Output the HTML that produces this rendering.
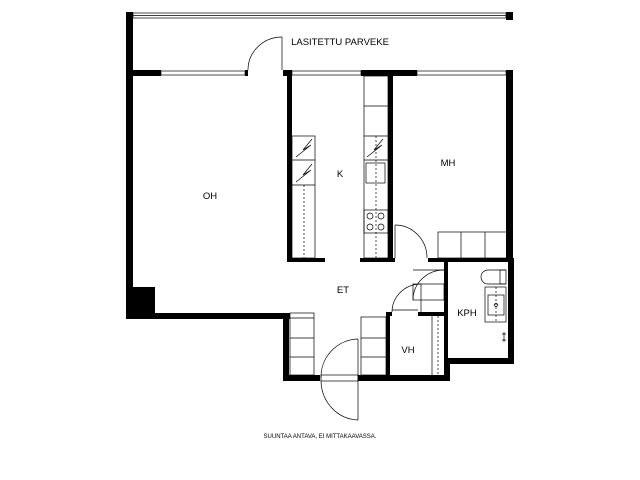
<!DOCTYPE html>
<html><head><style>body{margin:0;background:#fff}svg{display:block}</style></head><body>
<svg width="640" height="480" viewBox="0 0 640 480" xmlns="http://www.w3.org/2000/svg" font-family="Liberation Sans, sans-serif">
<rect width="640" height="480" fill="#fff"/>
<g fill="#000">
<!-- outer left -->
<rect x="126" y="12" width="7" height="307"/>
<rect x="126" y="287" width="29" height="32"/>
<rect x="126" y="313" width="164" height="6"/>
<rect x="283" y="313" width="6" height="68"/>
<rect x="283" y="375" width="37" height="6"/>
<rect x="358" y="375" width="92" height="6"/>
<!-- right outer -->
<rect x="506" y="12" width="7" height="8"/>
<rect x="506" y="70" width="7" height="192"/>
<!-- balcony wall line -->
<rect x="133" y="70" width="28" height="6"/>
<rect x="245" y="70" width="3" height="6"/>
<rect x="283" y="70" width="9" height="6"/>
<rect x="361" y="70" width="56" height="6"/>
<!-- kitchen -->
<rect x="287" y="76" width="5" height="186"/>
<rect x="388" y="76" width="5" height="186"/>
<rect x="287" y="258" width="38" height="4"/>
<rect x="360" y="258" width="35" height="4"/>
<rect x="428" y="258" width="86" height="4"/>
<!-- KPH -->
<rect x="444" y="262" width="4" height="102"/>
<rect x="508" y="262" width="6" height="102"/>
<rect x="447" y="358" width="67" height="6"/>
<rect x="444" y="358" width="6" height="23"/>
<!-- VH -->
<rect x="386" y="312" width="4" height="69"/>
<rect x="386" y="312" width="6" height="4"/>
<rect x="418" y="312" width="29" height="4"/>
</g>
<g fill="none" stroke="#000" stroke-width="0.7">
<!-- balcony glazing -->
<rect x="133" y="13" width="373" height="5"/>
<line x1="133" y1="15.5" x2="506" y2="15.5"/>
<rect x="161" y="71" width="84" height="4"/>
<rect x="292" y="71" width="69" height="4"/>
<rect x="417" y="71" width="89" height="4"/>
<!-- balcony door -->
<line x1="282" y1="37" x2="282" y2="70"/>
<path d="M248,70 A34,33 0 0 1 282,37"/>
<!-- kitchen left cabinets -->
<rect x="292" y="136" width="23" height="122"/>
<line x1="292" y1="160" x2="315" y2="160"/>
<line x1="292" y1="185" x2="315" y2="185"/>
<path d="M296,157 L311,145 L303,150 L312,139"/>
<path d="M296,182 L311,170 L303,175 L312,164"/>
<line x1="304" y1="185" x2="304" y2="258" stroke-dasharray="2,2"/>
<!-- kitchen right counter -->
<rect x="364" y="76" width="24" height="182"/>
<line x1="364" y1="106" x2="388" y2="106"/>
<line x1="364" y1="136" x2="388" y2="136"/>
<line x1="364" y1="160" x2="388" y2="160"/>
<path d="M367,157 L382,145 L374,150 L383,139"/>
<rect x="366" y="163" width="19" height="20"/>
<rect x="364" y="210" width="24" height="23"/>
<circle cx="370" cy="216" r="3"/><circle cx="381" cy="216" r="3"/>
<circle cx="370" cy="227" r="3"/><circle cx="381" cy="227" r="3"/>
<line x1="376" y1="136" x2="376" y2="258" stroke-dasharray="2,2"/>
<!-- MH door & wardrobe -->
<line x1="395" y1="225" x2="395" y2="258"/>
<path d="M395,225 A32,33 0 0 1 427,258"/>
<rect x="438" y="232" width="70" height="26"/>
<line x1="461" y1="232" x2="461" y2="258"/><line x1="485" y1="232" x2="485" y2="258"/>
<!-- ET closets -->
<rect x="290" y="313" width="24" height="62"/>
<line x1="290" y1="318" x2="314" y2="318"/>
<line x1="290" y1="338" x2="314" y2="338"/>
<line x1="290" y1="357" x2="314" y2="357"/>
<rect x="361" y="317" width="25" height="58"/>
<line x1="361" y1="338" x2="386" y2="338"/>
<line x1="361" y1="357" x2="386" y2="357"/>
<!-- front door -->
<line x1="358" y1="339" x2="358" y2="420"/>
<rect x="321" y="375" width="37" height="6"/>
<path d="M358,339 A38,38 0 0 0 321,378"/>
<path d="M321,380 A38,40 0 0 0 358,420"/>
<!-- VH door -->
<line x1="421" y1="284" x2="421" y2="312"/>
<path d="M392,312 A29,28 0 0 1 421,284"/>
<line x1="392" y1="310" x2="418" y2="310"/>
<!-- KPH door -->
<line x1="413" y1="270" x2="444" y2="270"/>
<path d="M413,300 A31,30 0 0 1 444,270"/>
<rect x="413" y="284" width="31" height="16"/>
<!-- VH shelf -->
<line x1="432" y1="316" x2="432" y2="375"/>
<line x1="438" y1="316" x2="438" y2="375" stroke-dasharray="2,2"/>
<!-- KPH fixtures -->
<path d="M506,270 L488,270 A7,7 0 0 0 488,284 L506,284"/>
<rect x="500" y="270" width="6" height="14"/>
<rect x="485" y="287" width="21" height="35"/>
<rect x="488" y="295" width="16" height="20"/>
<line x1="496" y1="287" x2="496" y2="322" stroke-dasharray="2,2"/>
<circle cx="496" cy="305" r="1.5"/>
<path d="M502,334 L506,334 M502,340 L506,340 M504,332 L504,342"/>
</g>
<g font-size="9.5" text-anchor="middle" fill="#000">
<text x="340" y="45">LASITETTU PARVEKE</text>
<text x="210" y="199">OH</text>
<text x="340" y="177">K</text>
<text x="448" y="166">MH</text>
<text x="343" y="293">ET</text>
<text x="467" y="316">KPH</text>
<text x="408" y="353">VH</text>
<text x="320" y="438" font-size="6">SUUNTAA ANTAVA, EI MITTAKAAVASSA.</text>
</g>
</svg>
</body></html>
